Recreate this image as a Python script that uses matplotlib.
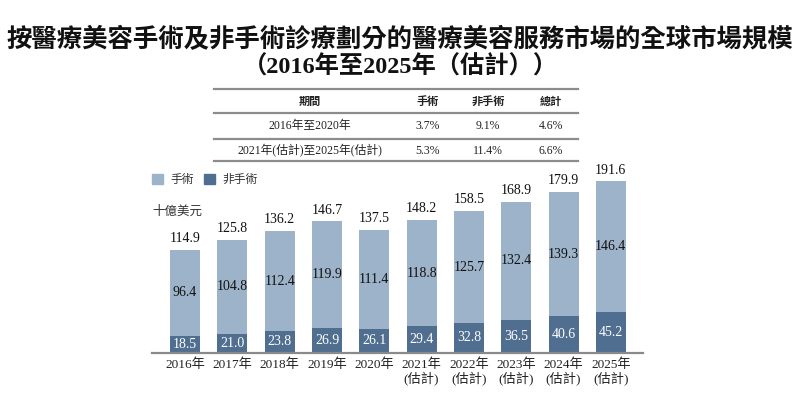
import matplotlib
matplotlib.use("Agg")
import matplotlib.pyplot as plt
from matplotlib.patches import Rectangle
from matplotlib.lines import Line2D

# ---- data ----
years = ["2016年", "2017年", "2018年", "2019年", "2020年",
         "2021年\n(估計)", "2022年\n(估計)", "2023年\n(估計)",
         "2024年\n(估計)", "2025年\n(估計)"]
non_surgical = [18.5, 21.0, 23.8, 26.9, 26.1, 29.4, 32.8, 36.5, 40.6, 45.2]
surgical = [96.4, 104.8, 112.4, 119.9, 111.4, 118.8, 125.7, 132.4, 139.3, 146.4]
totals = [114.9, 125.8, 136.2, 146.7, 137.5, 148.2, 158.5, 168.9, 179.9, 191.6]

series_names = ["手術", "非手術"]
table_header = ["期間", "手術", "非手術", "總計"]
table_periods = ["2016年至2020年", "2021年(估計)至2025年(估計)"]
table_surgical = ["3.7%", "5.3%"]
table_non_surgical = ["9.1%", "11.4%"]
table_total = ["4.6%", "6.6%"]

title_line1 = "按醫療美容手術及非手術診療劃分的醫療美容服務市場的全球市場規模"
title_line2 = "（2016年至2025年（估計））"
unit_label = "十億美元"

# ---- style ----
LIGHT = "#9db3c9"
DARK = "#4f6e90"
CJK = "Noto Sans CJK TC"
MIX = ["Liberation Serif", "Noto Sans CJK TC"]
W, H = 800, 398

fig = plt.figure(figsize=(8.0, 3.98), dpi=100)

# overlay in pixel coordinates for title / table / legend
ov = fig.add_axes([0, 0, 1, 1])
ov.set_xlim(0, W)
ov.set_ylim(H, 0)
ov.axis("off")

ov.text(400, 40, title_line1, ha="center", va="center", fontsize=18.3,
        fontweight="bold", family=CJK, color="#111111")
ov.text(400, 67, title_line2, ha="center", va="center", fontsize=17.5,
        fontweight="bold", family=MIX, color="#111111")

# table
tx0, tx1 = 214, 578
for yl in [89, 113, 139, 161]:
    ov.add_line(Line2D([tx0, tx1], [yl, yl], color="#8c8c8c", lw=1.6))
col_x = [310, 428, 488, 551]
ov_rows_y = [101, 126, 151]
for cx, t in zip(col_x, table_header):
    ov.text(cx, ov_rows_y[0], t, ha="center", va="center", fontsize=8,
            family=CJK, fontweight="bold", color="#222222")
for i in range(len(table_periods)):
    y = ov_rows_y[i + 1]
    vals = [table_periods[i], table_surgical[i], table_non_surgical[i], table_total[i]]
    for cx, t in zip(col_x, vals):
        ov.text(cx, y, t, ha="center", va="center", fontsize=8.5,
                family=MIX, color="#222222")

# legend
ov.add_patch(Rectangle((152, 174), 11, 10, color=LIGHT))
ov.text(170, 179, series_names[0], ha="left", va="center", fontsize=8.5,
        family=CJK, color="#333333")
ov.add_patch(Rectangle((204, 174), 11, 10, color=DARK))
ov.text(222, 179, series_names[1], ha="left", va="center", fontsize=8.5,
        family=CJK, color="#333333")
ov.text(152, 211, unit_label, ha="left", va="center", fontsize=9,
        family=CJK, color="#333333")

# main bar axes
base_px = 352.5
top_px = 160
ax = fig.add_axes([152 / W, (H - base_px) / H, (643 - 152) / W, (base_px - top_px) / H])
ax.patch.set_alpha(0)
x = list(range(len(years)))
bw = 0.635
ax.bar(x, non_surgical, width=bw, color=DARK, zorder=2)
ax.bar(x, surgical, width=bw, bottom=non_surgical, color=LIGHT, zorder=2)
ax.set_xlim(-0.70, 9.68)
ax.set_ylim(0, (base_px - top_px) / 0.8925)

for i in x:
    ax.text(i, non_surgical[i] / 2, f"{non_surgical[i]:.1f}", ha="center",
            va="center", fontsize=10, color="white", family=MIX)
    ax.text(i, non_surgical[i] + surgical[i] / 2, f"{surgical[i]:.1f}", ha="center",
            va="center", fontsize=10, color="#111111", family=MIX)
    ax.annotate(f"{totals[i]:.1f}", (i, totals[i]), xytext=(0, 3.5),
                textcoords="offset points", ha="center", va="bottom",
                fontsize=10, color="#111111", family=MIX)

for s in ["top", "right", "left"]:
    ax.spines[s].set_visible(False)
ax.spines["bottom"].set_color("#8a8a8a")
ax.spines["bottom"].set_linewidth(1.6)
ax.set_yticks([])
ax.set_xticks(x)
ax.set_xticklabels(years, family=MIX, fontsize=9.5, color="#222222", linespacing=1.15)
ax.tick_params(axis="x", length=0, pad=4)

fig.savefig("out.png", dpi=100)
